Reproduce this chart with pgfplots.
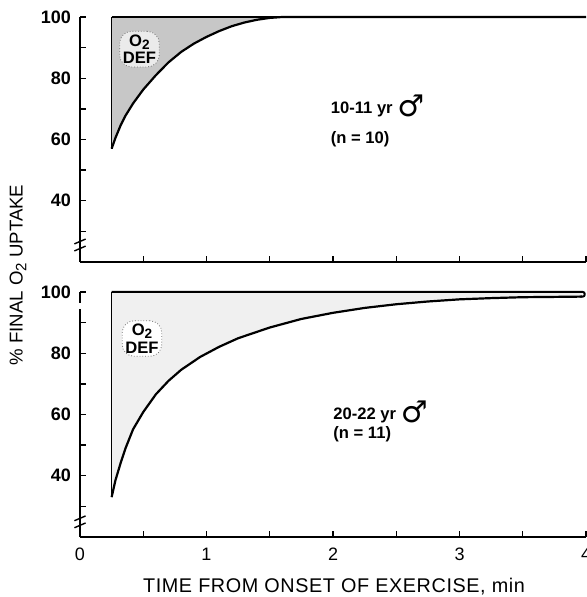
\documentclass[border=0pt]{standalone}
\usepackage{fontspec}
\setmainfont{Liberation Sans}
\newfontfamily\symfont{DejaVu Sans}
\usepackage{pgfplots}
\usepackage{pgfplotstable}
\pgfplotsset{compat=1.18}
\usepgfplotslibrary{fillbetween}

% 10-11 yr boys
\pgfplotstableread{
t v
0.25 57
0.28 60.5
0.32 64.5
0.36 67.8
0.42 71.8
0.50 76.3
0.60 81.0
0.70 85.2
0.80 88.6
0.90 91.3
1.00 93.5
1.10 95.4
1.20 97.0
1.30 98.2
1.40 99.1
1.50 99.7
1.60 100
4.00 100
}\young

% 20-22 yr men
\pgfplotstableread{
t v
0.25 33
0.28 38.5
0.32 44.0
0.36 49.0
0.42 55.2
0.50 60.8
0.60 66.6
0.70 71.0
0.80 74.6
0.95 78.8
1.10 82.1
1.25 84.9
1.50 88.4
1.75 91.2
2.00 93.2
2.25 94.8
2.50 96.0
2.75 96.9
3.00 97.6
3.25 98.0
3.50 98.3
3.75 98.4
3.97 98.5
}\adult

\pgfplotsset{
  panel/.style={
    scale only axis, width=253pt, height=122.5pt,
    xmin=0, xmax=4, ymin=20, ymax=100,
    axis x line*=bottom, axis y line*=left,
    axis line style={line width=0.9pt},
    tick align=inside, major tick length=3pt, minor tick length=3pt,
    tick style={black, line width=0.7pt},
    xtick={0,1,2,3,4}, minor xtick={0.5,1.5,2.5,3.5},
    ytick={40,60,80,100}, minor ytick={30,50,70,90},
    /pgf/number format/assume math mode=true,
    yticklabel style={font=\bfseries\fontsize{9}{10}\selectfont, xshift=-1pt},
    xticklabel style={font=\fontsize{9}{10}\selectfont, yshift=-2pt},
    clip=false,
  },
}
\tikzset{
  note/.style={anchor=west, inner sep=0pt, font=\bfseries\fontsize{8.3}{9}\selectfont},
  o2box/.style={draw=black!55, densely dotted, rounded corners=6pt, fill=white,
    inner sep=1.6pt, align=center, font=\bfseries\fontsize{8.3}{8.8}\selectfont},
  brk/.style={line width=0.7pt},
}
\newcommand{\Otwo}{O{\fontsize{6.8}{7}\selectfont\raisebox{-0.45ex}{2}}}
\newcommand{\male}{\raisebox{-1.5pt}{\symfont\fontsize{15}{15}\selectfont ♂}}

\begin{document}
\begin{tikzpicture}

% upper panel
\begin{axis}[panel, at={(0,137.5pt)}, anchor=south west, xticklabels={}]
\addplot[name path=ya, draw=none] table {\young};
\addplot[name path=yb, draw=none] coordinates {(0.25,100) (4,100)};
\addplot[black!22] fill between[of=ya and yb];
\addplot[line width=0.5pt] coordinates {(0.25,57) (0.25,100)};
\addplot[line width=1pt] coordinates {(0.25,100) (4,100)};
\addplot[line width=1.1pt] table {\young};
\node[o2box, fill=black!8] at (axis cs:0.47,89.5) {\Otwo\\DEF};
\node[note] at (axis cs:1.98,71) {10-11 yr \male};
\node[note] at (axis cs:1.98,60.2) {(n = 10)};
\fill[white] (axis cs:0,24.5) ++(-2pt,0) rectangle ++(4pt,3.2pt);
\draw[brk] (axis cs:0,24.4) ++(-2.8pt,-1.2pt) -- ++(5.6pt,2.4pt);
\draw[brk] (axis cs:0,26.7) ++(-2.8pt,-1.2pt) -- ++(5.6pt,2.4pt);
\end{axis}

% lower panel
\begin{axis}[panel, at={(0,0)}, anchor=south west]
\addplot[name path=aa, draw=none] table {\adult};
\addplot[name path=ab, draw=none] coordinates {(0.25,100) (3.97,100)};
\addplot[black!6] fill between[of=aa and ab];
\addplot[line width=0.5pt] coordinates {(0.25,33) (0.25,100)};
\addplot[line width=1pt, rounded corners=1pt] coordinates {(0.25,100) (3.99,100) (3.99,98.5) (3.95,98.5)};
\addplot[line width=1.1pt] table {\adult};
\node[o2box] at (axis cs:0.49,84.8) {\Otwo\\DEF};
\node[note] at (axis cs:2.0,61) {20-22 yr \male};
\node[note] at (axis cs:2.0,53.5) {(n = 11)};
\fill[white] (axis cs:0,24.0) ++(-2pt,0) rectangle ++(4pt,3.2pt);
\draw[brk] (axis cs:0,23.8) ++(-2.8pt,-1.2pt) -- ++(5.6pt,2.4pt);
\draw[brk] (axis cs:0,26.1) ++(-2.8pt,-1.2pt) -- ++(5.6pt,2.4pt);
\end{axis}

\node[rotate=90, font=\fontsize{9.3}{10}\selectfont] at (-31pt,131pt) {\% FINAL O{\fontsize{7.5}{8}\selectfont\raisebox{-0.45ex}{2}} UPTAKE};
\node[font=\fontsize{9.9}{11}\selectfont\addfontfeatures{LetterSpace=3}] at (127pt,-25pt) {TIME FROM ONSET OF EXERCISE, min};

\pgfresetboundingbox
\useasboundingbox (-40pt,-30pt) rectangle (253pt,268.5pt);
\end{tikzpicture}
\end{document}
